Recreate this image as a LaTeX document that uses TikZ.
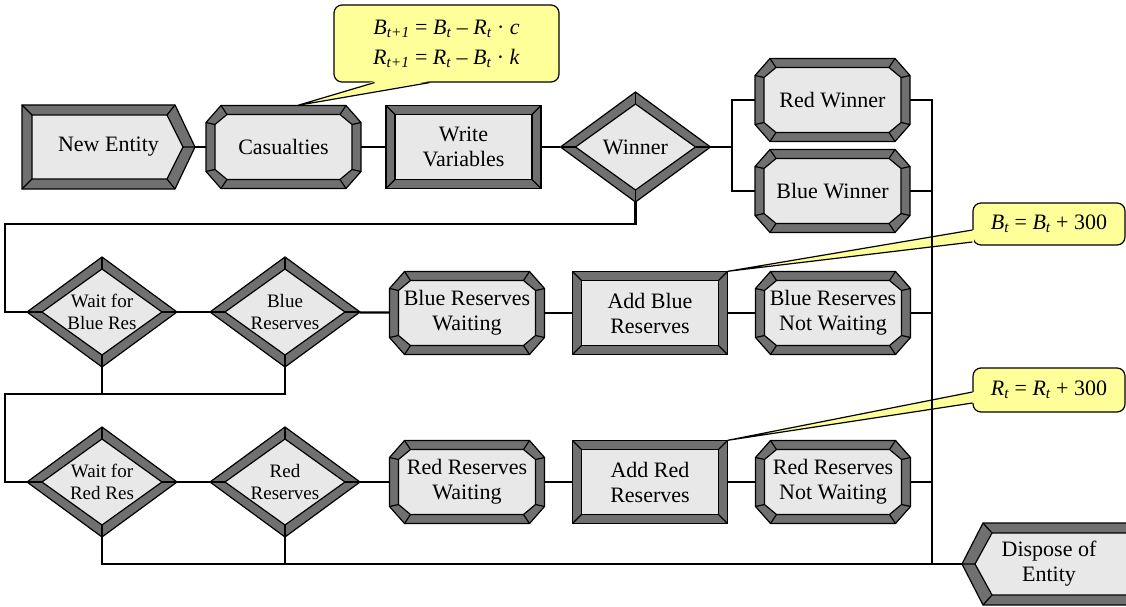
\documentclass[tikz,border=0pt]{standalone}
\usepackage{fontspec}
\setmainfont{Liberation Serif}
\usepackage{tikz}
\usetikzlibrary{calc, shapes.geometric}
\definecolor{framegray}{RGB}{112, 112, 112}
\definecolor{facegray}{RGB}{232, 232, 232}
\definecolor{noteyellow}{RGB}{255, 255, 153}

\newcommand{\boxfont}{\rmfamily\fontsize{22}{25}\selectfont}
\newcommand{\diafont}{\rmfamily\fontsize{19}{22}\selectfont}
\newcommand{\iv}[2]{\textit{#1\textsubscript{#2}}}

% cornice ottagonale (centro #1)
\newcommand{\octframe}[1]{%
  \begin{scope}[shift={(#1)}]
    \draw[frame] (-62.5,-41.5) -- (62.5,-41.5) -- (77.5,-24.5) -- (77.5,24.5)
      -- (62.5,41.5) -- (-62.5,41.5) -- (-77.5,24.5) -- (-77.5,-24.5) -- cycle;
    \draw[face] (-56.5,-32.5) -- (56.5,-32.5) -- (68.5,-22.5) -- (68.5,22.5)
      -- (56.5,32.5) -- (-56.5,32.5) -- (-68.5,22.5) -- (-68.5,-22.5) -- cycle;
    \foreach \sx in {-1,1} \foreach \sy in {-1,1} {
      \draw[bev] (\sx*62.5,\sy*41.5) -- (\sx*56.5,\sy*32.5);
      \draw[bev] (\sx*77.5,\sy*24.5) -- (\sx*68.5,\sy*22.5);
    }
  \end{scope}}
% cornice rettangolare
\newcommand{\rectframe}[1]{%
  \begin{scope}[shift={(#1)}]
    \draw[frame] (-77.5,-41.5) rectangle (77.5,41.5);
    \draw[face] (-68.5,-32.5) rectangle (68.5,32.5);
    \foreach \sx in {-1,1} \foreach \sy in {-1,1}
      \draw[bev] (\sx*77.5,\sy*41.5) -- (\sx*68.5,\sy*32.5);
  \end{scope}}
% cornice a rombo
\newcommand{\diaframe}[1]{%
  \begin{scope}[shift={(#1)}]
    \draw[frame] (-75,0) -- (0,-55) -- (75,0) -- (0,55) -- cycle;
    \draw[face] (-60,0) -- (0,-43) -- (60,0) -- (0,43) -- cycle;
    \draw[bev] (-75,0) -- (-60,0) (75,0) -- (60,0) (0,-55) -- (0,-43) (0,55) -- (0,43);
  \end{scope}}

\begin{document}
\begin{tikzpicture}[
  x=1pt, y=-1pt,
  frame/.style={draw=black, fill=framegray, line width=1.2pt, line join=miter},
  face/.style={draw=black, fill=facegray, line width=1.2pt},
  bev/.style={line width=1.2pt},
  wire/.style={line width=2.2pt},
  box/.style={minimum width=155pt, minimum height=83pt, inner sep=0pt,
    align=center, font=\boxfont},
  dia/.style={diamond, minimum width=150pt, minimum height=110pt, inner sep=0pt,
    align=center, font=\diafont},
  note/.style={draw=black, fill=noteyellow, rounded corners=8pt, line width=1.2pt,
    inner sep=0pt, align=center, font=\boxfont},
  tail/.style={fill=noteyellow},
  tailedge/.style={line width=1.2pt}
]
  \useasboundingbox (0,0) rectangle (1126,607);

  % riga superiore
  \draw[frame] (22,105) -- (175,105) -- (195,147) -- (175,189) -- (22,189) -- cycle;
  \draw[face] (32,115) -- (167,115) -- (183,147) -- (167,179) -- (32,179) -- cycle;
  \draw[bev] (22,105) -- (32,115) (175,105) -- (167,115) (195,147) -- (183,147)
    (175,189) -- (167,179) (22,189) -- (32,179);
  \node[box, minimum width=173pt] (newent) at (108.5,147) {New Entity};

  \octframe{283.5,147}
  \node[box] (casual) at (283.5,147) {Casualties};
  \rectframe{463.5,147}
  \node[box] (writev) at (463.5,147) {Write\\Variables};
  \diaframe{635.5,147}
  \node[dia, font=\boxfont] (winner) at (635.5,147) {Winner};
  \octframe{832.5,100}
  \node[box] (redwin) at (832.5,100) {Red Winner};
  \octframe{832.5,191}
  \node[box] (bluewin) at (832.5,191) {Blue Winner};

  % riserve blu
  \diaframe{102,312}
  \node[dia] (waitblue) at (102,312) {Wait for\\Blue Res};
  \diaframe{285,312}
  \node[dia] (bluequeue) at (285,312) {Blue\\Reserves};
  \octframe{467,313}
  \node[box] (bluewait) at (467,313) {Blue Reserves\\Waiting};
  \rectframe{650,313}
  \node[box] (addblue) at (650,313) {Add Blue\\Reserves};
  \octframe{833,313}
  \node[box] (bluenowait) at (833,313) {Blue Reserves\\Not Waiting};

  % riserve rosse
  \diaframe{102,482}
  \node[dia] (waitred) at (102,482) {Wait for\\Red Res};
  \diaframe{285,482}
  \node[dia] (redqueue) at (285,482) {Red\\Reserves};
  \octframe{467,482}
  \node[box] (redwait) at (467,482) {Red Reserves\\Waiting};
  \rectframe{650,482}
  \node[box] (addred) at (650,482) {Add Red\\Reserves};
  \octframe{833,482}
  \node[box] (rednowait) at (833,482) {Red Reserves\\Not Waiting};

  % uscita
  \draw[frame] (962,564) -- (983,523) -- (1136,523) -- (1136,605) -- (983,605) -- cycle;
  \draw[face] (975,564) -- (992,533) -- (1136,533) -- (1136,595) -- (992,595) -- cycle;
  \draw[bev] (962,564) -- (975,564) (983,523) -- (992,533) (983,605) -- (992,595);
  \node[box, minimum width=174pt] (dispose) at (1049,564) {Dispose of\\Entity};

  % note gialle
  \node[note, minimum width=225pt, minimum height=77pt] (eqcas) at (446.5,43.5)
    {\iv{B}{t+1} = \iv{B}{t} – \iv{R}{t} · \textit{c}\\[5pt]
     \iv{R}{t+1} = \iv{R}{t} – \iv{B}{t} · \textit{k}};
  \fill[tail] ([shift={(-72pt,1.5pt)}]eqcas.south) -- ([xshift=14.5pt]casual.north)
    -- ([shift={(-17pt,1.5pt)}]eqcas.south) -- cycle;
  \draw[tailedge] ([xshift=-72pt]eqcas.south) -- ([xshift=14.5pt]casual.north)
    -- ([xshift=-17pt]eqcas.south);

  \node[note, minimum width=152pt, minimum height=42pt] (eqblue) at (1049,224)
    {\iv{B}{t} = \iv{B}{t} + 300};
  \fill[tail] ([shift={(1.5pt,-6pt)}]eqblue.west) -- (addblue.north east)
    -- ([shift={(1.5pt,-18pt)}]eqblue.west) -- cycle;
  \draw[tailedge] ([yshift=-6pt]eqblue.west) -- (addblue.north east)
    -- ([yshift=-18pt]eqblue.west);

  \node[note, minimum width=152pt, minimum height=44pt] (eqred) at (1049,390)
    {\iv{R}{t} = \iv{R}{t} + 300};
  \fill[tail] ([shift={(1.5pt,-2pt)}]eqred.west) -- (addred.north east)
    -- ([shift={(1.5pt,-13pt)}]eqred.west) -- cycle;
  \draw[tailedge] ([yshift=-2pt]eqred.west) -- (addred.north east)
    -- ([yshift=-13pt]eqred.west);

  % collegamenti
  \coordinate (split) at (732,147);
  \coordinate (bus) at (932,564);
  \coordinate (back1) at (5,224);
  \coordinate (back2) at (5,394);

  \draw[wire] (newent) -- (casual);
  \draw[wire] (casual) -- (writev);
  \draw[wire] (writev) -- (winner);
  \draw[wire] (winner.east) -- (split);
  \draw[wire] (split) |- (redwin.west);
  \draw[wire] (split) |- (bluewin.west);
  \draw[wire] (redwin.east) -| (bus);
  \draw[wire] (bluewin.east) -- (bluewin.east -| bus);
  \draw[wire] (winner.south) |- (back1) |- (waitblue.west);

  \draw[wire] (waitblue) -- (bluequeue);
  \draw[wire] (bluequeue) -- (bluewait);
  \draw[wire] (bluewait) -- (addblue);
  \draw[wire] (addblue) -- (bluenowait);
  \draw[wire] (bluenowait.east) -- (bluenowait.east -| bus);
  \draw[wire] (bluequeue.south) |- (back2) |- (waitred.west);
  \draw[wire] (waitblue.south) -- (waitblue.south |- back2);

  \draw[wire] (waitred) -- (redqueue);
  \draw[wire] (redqueue) -- (redwait);
  \draw[wire] (redwait) -- (addred);
  \draw[wire] (addred) -- (rednowait);
  \draw[wire] (rednowait.east) -- (rednowait.east -| bus);
  \draw[wire] (waitred.south) |- (dispose.west);
  \draw[wire] (redqueue.south) -- (redqueue.south |- dispose.west);

\end{tikzpicture}
\end{document}
